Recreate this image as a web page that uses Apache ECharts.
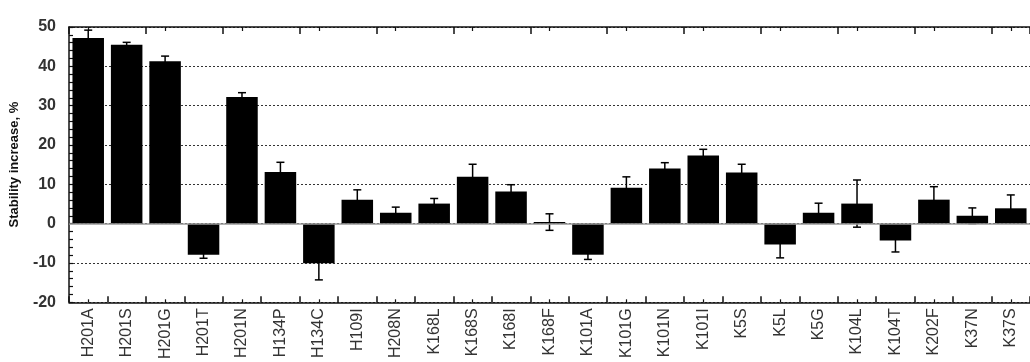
<!DOCTYPE html>
<html>
<head>
<meta charset="utf-8">
<script src="https://cdn.jsdelivr.net/npm/echarts@6/dist/echarts.min.js"></script>
<style>
html,body{margin:0;padding:0;background:#fff;}
#chart{width:1030px;height:362px;}
</style>
</head>
<body>
<div id="chart"></div>
<script>
const categories = ['H201A','H201S','H201G','H201T','H201N','H134P','H134C','H109I','H208N','K168L','K168S','K168I','K168F','K101A','K101G','K101N','K101I','K5S','K5L','K5G','K104L','K104T','K202F','K37N','K37S'];
const values = [47.2, 45.5, 41.3, -7.9, 32.2, 13.1, -10.1, 6.1, 2.8, 5.1, 11.9, 8.2, 0.4, -7.9, 9.1, 14.0, 17.3, 13.0, -5.3, 2.8, 5.1, -4.3, 6.1, 2.0, 3.9];
const errors = [2.0, 0.6, 1.3, 0.9, 1.1, 2.5, 4.2, 2.5, 1.4, 1.3, 3.2, 1.7, 2.1, 1.2, 2.8, 1.5, 1.6, 2.1, 3.4, 2.4, 6.0, 2.9, 3.3, 2.0, 3.4];
const yTicks = { min: -20, max: 50, interval: 10 };
const yTitle = 'Stability increase, %';

const errData = values.map((v, i) => [i, v - errors[i], v + errors[i]]);

const chart = echarts.init(document.getElementById('chart'));
const catAxisBase = {
  type: 'category', data: categories, gridIndex: 0,
  axisLine: { show: false, onZero: false },
  axisLabel: { show: false },
  splitLine: { show: false }
};
chart.setOption({
  animation: false,
  backgroundColor: '#ffffff',
  grid: { left: 68, top: 27, right: -8, bottom: 55, containLabel: false },
  xAxis: [
    {
      type: 'category', data: categories, position: 'bottom',
      axisLine: { show: true, onZero: false, lineStyle: { color: '#111', width: 1.5 } },
      axisTick: { show: true, inside: true, length: 6, alignWithLabel: false, lineStyle: { color: '#111', width: 1.5 } },
      axisLabel: { show: true, rotate: 90, margin: 6, fontSize: 16, color: '#333', fontFamily: 'Liberation Sans, Arial, sans-serif', padding: [0, 0, 8, 0] },
      splitLine: { show: false }
    },
    Object.assign({}, catAxisBase, {
      position: 'bottom',
      axisTick: { show: true, inside: true, length: 3, alignWithLabel: true, lineStyle: { color: '#111', width: 1.2 } }
    }),
    Object.assign({}, catAxisBase, {
      position: 'top',
      axisLine: { show: true, onZero: false, lineStyle: { color: '#111', width: 1.5 } },
      axisTick: { show: true, inside: true, length: 7, alignWithLabel: false, lineStyle: { color: '#111', width: 1.5 } }
    }),
    Object.assign({}, catAxisBase, {
      position: 'top',
      axisTick: { show: true, inside: true, length: 4, alignWithLabel: true, lineStyle: { color: '#111', width: 1.2 } }
    })
  ],
  yAxis: {
    type: 'value', min: yTicks.min, max: yTicks.max, interval: yTicks.interval,
    name: yTitle, nameLocation: 'middle', nameGap: 48, nameRotate: 90,
    nameTextStyle: { fontSize: 13, fontWeight: 'bold', color: '#111', fontFamily: 'Liberation Sans, Arial, sans-serif' },
    axisLine: { show: true, onZero: false, lineStyle: { color: '#111', width: 1.5 } },
    axisTick: { show: true, inside: true, length: 4, lineStyle: { color: '#111', width: 1.2 } },
    minorTick: { show: true, splitNumber: 5, length: 4, lineStyle: { color: '#111', width: 1.2 } },
    axisLabel: { fontSize: 16, fontWeight: 'bold', color: '#333', margin: 13, padding: [0, 0, 11, 0], fontFamily: 'Liberation Sans, Arial, sans-serif' },
    splitLine: { show: true, lineStyle: { color: '#333', width: 1, type: [2, 2] } }
  },
  series: [
    {
      type: 'bar', data: values, xAxisIndex: 0, yAxisIndex: 0,
      barWidth: '82%',
      itemStyle: { color: '#000' },
      markLine: {
        silent: true, symbol: 'none', label: { show: false },
        lineStyle: { color: '#999', type: 'solid', width: 1.5 },
        data: [{ yAxis: 0 }]
      },
      z: 2
    },
    {
      type: 'custom', data: errData, xAxisIndex: 0, yAxisIndex: 0, z: 3,
      renderItem: function (params, api) {
        const lo = api.coord([api.value(0), api.value(1)]);
        const hi = api.coord([api.value(0), api.value(2)]);
        const w = 4;
        const style = { stroke: '#000', lineWidth: 1.5, fill: null };
        return {
          type: 'group',
          children: [
            { type: 'line', shape: { x1: hi[0], y1: hi[1], x2: lo[0], y2: lo[1] }, style: style },
            { type: 'line', shape: { x1: hi[0] - w, y1: hi[1], x2: hi[0] + w, y2: hi[1] }, style: style },
            { type: 'line', shape: { x1: lo[0] - w, y1: lo[1], x2: lo[0] + w, y2: lo[1] }, style: style }
          ]
        };
      }
    }
  ]
});
</script>
</body>
</html>
